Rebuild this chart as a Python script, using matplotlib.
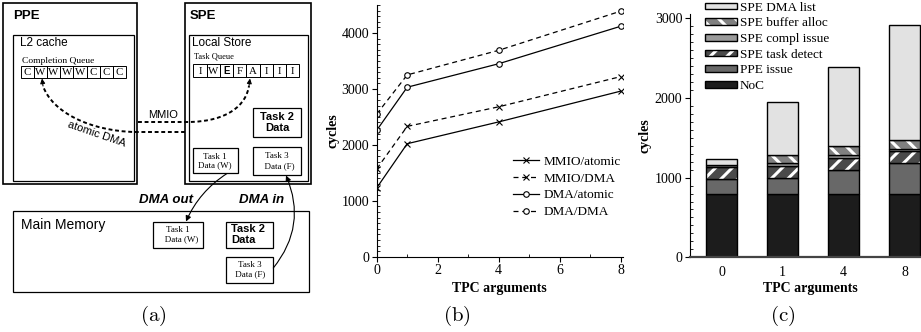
import numpy as np
import matplotlib
matplotlib.use('Agg')
import matplotlib.pyplot as plt
from matplotlib.patches import Rectangle, Patch, PathPatch
from matplotlib.path import Path
from matplotlib.ticker import MultipleLocator

plt.rcParams['font.family'] = ['Liberation Serif', 'DejaVu Serif']
plt.rcParams['mathtext.fontset'] = 'cm'
plt.rcParams['hatch.linewidth'] = 2.2

SANS = ['Liberation Sans', 'DejaVu Sans']

# (b) TPC invocation cost per configuration
tpc_args = [0, 1, 4, 8]
mmio_atomic = [1230, 2020, 2410, 2960]
mmio_dma = [1570, 2330, 2680, 3220]
dma_atomic = [2260, 3030, 3450, 4120]
dma_dma = [2550, 3250, 3690, 4390]

# (c) breakdown of cycles, bottom to top
bar_labels = ['0', '1', '4', '8']
noc = [800, 800, 800, 800]
ppe_issue = [180, 190, 300, 380]
spe_task_detect = [155, 150, 150, 150]
spe_compl_issue = [20, 38, 38, 30]
spe_buffer_alloc = [0, 108, 104, 113]
spe_dma_list = [80, 660, 995, 1445]

# (a) queue contents
completion_queue = list('CWWWWCCC')
task_queue = list('IWEFAIII')


def box(ax, x0, y0, x1, y1, lw=0.9):
    ax.add_patch(Rectangle((x0, y0), x1 - x0, y1 - y0, fill=False, lw=lw, ec='black'))


def queue(ax, letters, x0, x1, y0, y1, bold_letter=None):
    w = (x1 - x0) / len(letters)
    for i, c in enumerate(letters):
        box(ax, x0 + i * w, y0, x0 + (i + 1) * w, y1, lw=0.7)
        if c == bold_letter:
            ax.text(x0 + (i + 0.5) * w, (y0 + y1) / 2 + 0.5, c, ha='center', va='center',
                    fontsize=7, family=SANS, fontweight='bold')
        else:
            ax.text(x0 + (i + 0.5) * w, (y0 + y1) / 2 + 0.5, c, ha='center', va='center',
                    fontsize=7.8)


def dashed_curve(ax, verts, codes):
    ax.add_patch(PathPatch(Path(verts, codes), fill=False, lw=1.4, ls=(0, (2, 1.4)),
                           ec='black'))


fig = plt.figure(figsize=(9.21, 3.32), dpi=100)

# ---------------- (a) diagram ----------------
ax_a = fig.add_axes([0, 0, 315 / 921, 1])
ax_a.set_xlim(0, 315)
ax_a.set_ylim(332, 0)
ax_a.axis('off')

box(ax_a, 3, 3, 137, 184, lw=1.2)
box(ax_a, 13, 35, 133.5, 180.5)
ax_a.text(13, 16, 'PPE', family=SANS, fontweight='bold', fontsize=9.5, va='center')
ax_a.text(20, 43.5, 'L2 cache', family=SANS, fontsize=8.5, va='center')
ax_a.text(22, 61, 'Completion Queue', fontsize=6.8, va='center')
queue(ax_a, completion_queue, 20.7, 126, 66, 77.7)

box(ax_a, 185, 3, 311, 184, lw=1.2)
box(ax_a, 189, 35, 307.5, 180.5)
ax_a.text(190, 16, 'SPE', family=SANS, fontweight='bold', fontsize=9.5, va='center')
ax_a.text(192, 43.5, 'Local Store', family=SANS, fontsize=8.5, va='center')
ax_a.text(194, 57, 'Task Queue', fontsize=6, va='center')
queue(ax_a, task_queue, 193.3, 299.3, 64.3, 76.7, bold_letter='E')

box(ax_a, 252.7, 108.3, 301, 136.7)
ax_a.text(277, 122.5, 'Task 2\nData', family=SANS, fontweight='bold', fontsize=8,
          ha='center', va='center', linespacing=1.1)
box(ax_a, 192.7, 148.3, 237.7, 173.3)
ax_a.text(215.2, 161, 'Task 1\nData (W)', fontsize=6.5, ha='center', va='center',
          linespacing=1.1)
box(ax_a, 252.7, 146.7, 301, 175)
ax_a.text(277, 161, 'Task 3\n  Data (F)', fontsize=6.5, ha='center', va='center',
          linespacing=1.3)

# dashed MMIO / atomic DMA paths
dashed_curve(ax_a, [(138, 122), (190, 122), (228, 121), (246, 105), (249, 86)],
             [Path.MOVETO, Path.LINETO, Path.CURVE4, Path.CURVE4, Path.CURVE4])
dashed_curve(ax_a, [(185, 132), (135, 132), (90, 131), (52, 112), (43, 86)],
             [Path.MOVETO, Path.LINETO, Path.CURVE4, Path.CURVE4, Path.CURVE4])
for tip, tail in [((250, 78.5), (249, 86)), ((42, 78.5), (43, 86))]:
    ax_a.annotate('', xy=tip, xytext=tail,
                  arrowprops=dict(arrowstyle='-|>', lw=0.8, color='black',
                                  mutation_scale=7, shrinkA=0, shrinkB=0))
ax_a.text(163, 115, 'MMIO', family=SANS, fontsize=8, ha='center', va='center')
ax_a.text(97, 134, 'atomic DMA', family=SANS, fontsize=8, ha='center', va='center',
          rotation=-19)

# main memory
ax_a.text(166, 200, 'DMA out', family=SANS, fontweight='bold', style='italic',
          fontsize=9.5, ha='center', va='center')
ax_a.text(262, 200, 'DMA in', family=SANS, fontweight='bold', style='italic',
          fontsize=9.5, ha='center', va='center')
box(ax_a, 12.7, 211, 309, 291.7)
ax_a.text(21, 225, 'Main Memory', family=SANS, fontsize=10, va='center')
box(ax_a, 153.3, 221.7, 203.3, 247.7)
ax_a.text(178.3, 234.7, 'Task 1\n   Data (W)', fontsize=6.5, ha='center', va='center',
          linespacing=1.1)
box(ax_a, 225.7, 221.7, 273.3, 247.7)
ax_a.text(231, 234.7, 'Task 2\nData', family=SANS, fontweight='bold', fontsize=8,
          ha='left', va='center', linespacing=1.1)
box(ax_a, 225.7, 256.7, 273.3, 282.7)
ax_a.text(249.5, 269.7, 'Task 3\n Data (F)', fontsize=6.5, ha='center', va='center',
          linespacing=1.3)

ax_a.annotate('', xy=(186, 221.5), xytext=(227, 173.5),
              arrowprops=dict(arrowstyle='-|>', lw=0.8, color='black', mutation_scale=8,
                              shrinkA=0, shrinkB=0, connectionstyle='arc3,rad=0.15'))
ax_a.annotate('', xy=(286, 175.5), xytext=(273.3, 268),
              arrowprops=dict(arrowstyle='-|>', lw=0.8, color='black', mutation_scale=8,
                              shrinkA=0, shrinkB=0, connectionstyle='arc3,rad=0.3'))

# ---------------- (b) line chart ----------------
ax_b = fig.add_axes([376.7 / 921, 75.3 / 332, 246.3 / 921, 251.7 / 332])
ax_b.plot(tpc_args, mmio_atomic, '-', marker='x', color='black', lw=0.9, ms=4, mew=0.8,
          label='MMIO/atomic')
ax_b.plot(tpc_args, mmio_dma, '--', marker='x', color='black', lw=0.9, ms=4, mew=0.8,
          dashes=(4, 3), label='MMIO/DMA')
ax_b.plot(tpc_args, dma_atomic, '-', marker='o', color='black', lw=0.9, ms=4, mew=0.8,
          mfc='white', label='DMA/atomic')
ax_b.plot(tpc_args, dma_dma, '--', marker='o', color='black', lw=0.9, ms=4, mew=0.8,
          mfc='white', dashes=(4, 3), label='DMA/DMA')
ax_b.set_xlim(0, 8.075)
ax_b.set_ylim(0, 4500)
ax_b.spines['top'].set_visible(False)
ax_b.spines['right'].set_visible(False)
ax_b.xaxis.set_major_locator(MultipleLocator(2))
ax_b.xaxis.set_minor_locator(MultipleLocator(1))
ax_b.yaxis.set_major_locator(MultipleLocator(1000))
ax_b.yaxis.set_minor_locator(MultipleLocator(100))
ax_b.tick_params(which='major', direction='out', length=3.5, width=0.8, labelsize=10,
                 pad=2)
ax_b.tick_params(which='minor', direction='in', length=2.5, width=0.6)
ax_b.set_xlabel('TPC arguments', fontweight='bold', fontsize=10)
ax_b.set_ylabel('cycles', fontweight='bold', fontsize=10)
ax_b.xaxis.set_label_coords(0.5, -0.1)
ax_b.yaxis.set_label_coords(-0.15, 0.5)
ax_b.legend(loc='upper left', bbox_to_anchor=(0.553, 0.402), frameon=False, fontsize=9.5,
            handlelength=2.0, handletextpad=0.3, labelspacing=0.35, borderpad=0,
            borderaxespad=0, numpoints=1)

# ---------------- (c) stacked bars ----------------
ax_c = fig.add_axes([690 / 921, 74.7 / 332, 242 / 921, 243 / 332])
ax_c.set_xlim(-0.52, 3.45)
ax_c.set_ylim(0, 3050)
xpos = np.arange(len(bar_labels))
layers = [
    ('NoC', noc, '#1c1c1c', None),
    ('PPE issue', ppe_issue, '#686868', None),
    ('SPE task detect', spe_task_detect, '#4a4a4a', '//'),
    ('SPE compl issue', spe_compl_issue, '#9a9a9a', None),
    ('SPE buffer alloc', spe_buffer_alloc, '#808080', '\\\\'),
    ('SPE DMA list', spe_dma_list, '#e2e2e2', None),
]
bottom = np.zeros(len(bar_labels))
handles = []
for name, vals, col, hatch in layers:
    vals = np.array(vals, dtype=float)
    if hatch:
        ax_c.bar(xpos, vals, 0.5, bottom=bottom, color=col, edgecolor='white', hatch=hatch,
                 linewidth=0)
        ax_c.bar(xpos, vals, 0.5, bottom=bottom, fill=False, edgecolor='black', linewidth=1)
        h = (Patch(facecolor=col, edgecolor='white', hatch=hatch, linewidth=0),
             Patch(fill=False, edgecolor='black', linewidth=1))
    else:
        ax_c.bar(xpos, vals, 0.5, bottom=bottom, color=col, edgecolor='black', linewidth=1)
        h = Patch(facecolor=col, edgecolor='black', linewidth=1)
    handles.append((h, name))
    bottom += vals
ax_c.spines['top'].set_visible(False)
ax_c.spines['right'].set_visible(False)
ax_c.spines['bottom'].set_linewidth(1.6)
ax_c.spines['bottom'].set_color('#444444')
ax_c.set_xticks(xpos)
ax_c.set_xticklabels(bar_labels)
ax_c.yaxis.set_major_locator(MultipleLocator(1000))
ax_c.yaxis.set_minor_locator(MultipleLocator(100))
ax_c.tick_params(axis='y', which='major', direction='out', length=3.5, width=0.8,
                 labelsize=10, pad=2)
ax_c.tick_params(axis='y', which='minor', direction='in', length=2.5, width=0.6)
ax_c.tick_params(axis='x', length=0, labelsize=10, pad=6)
ax_c.set_xlabel('TPC arguments', fontweight='bold', fontsize=10)
ax_c.set_ylabel('cycles', fontweight='bold', fontsize=10)
ax_c.xaxis.set_label_coords(0.496, -0.103)
ax_c.yaxis.set_label_coords(-0.16, 0.5)
ax_c.legend([h for h, _ in handles[::-1]], [n for _, n in handles[::-1]],
            loc='upper left', bbox_to_anchor=(0.062, 1.052), frameon=False, fontsize=9.5,
            handlelength=2.4, handleheight=0.4, handletextpad=0.25, labelspacing=0.28,
            borderpad=0, borderaxespad=0)

# panel labels
fig.text(153 / 921, 1 - 316 / 332, r'$\mathrm{(a)}$', fontsize=15, ha='center', va='center')
fig.text(457 / 921, 1 - 316 / 332, r'$\mathrm{(b)}$', fontsize=15, ha='center', va='center')
fig.text(783 / 921, 1 - 316 / 332, r'$\mathrm{(c)}$', fontsize=15, ha='center', va='center')

fig.savefig('out.png', dpi=100)
